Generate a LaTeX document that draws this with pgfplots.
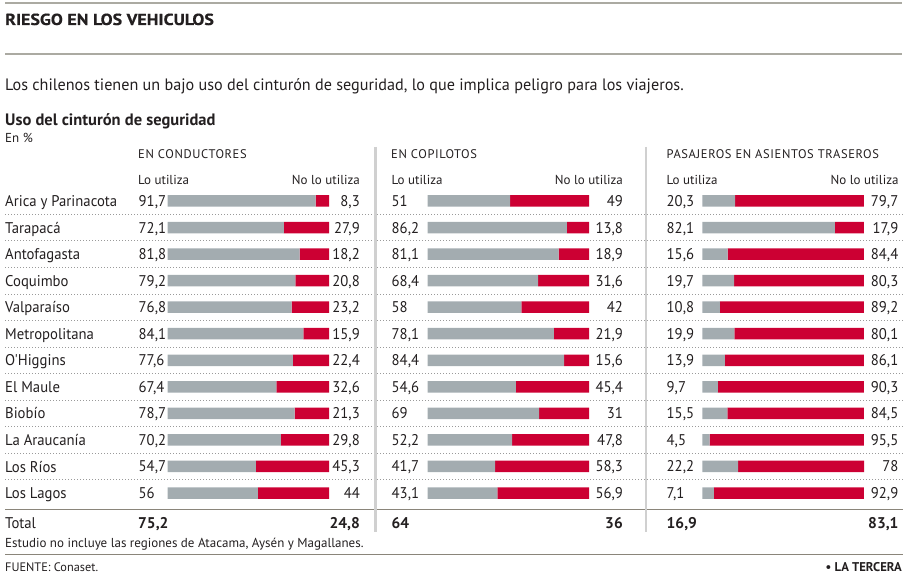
\documentclass[border=0pt]{standalone}
\usepackage{fontspec}
\setmainfont{PT Sans}
\newfontfamily\nar{PT Sans}[FakeStretch=0.95]
\newfontfamily\sub{PT Sans}[FakeStretch=0.98]
\newfontfamily\ttl{PT Sans}[FakeStretch=1.12, FakeBold=0.5]
\newfontfamily\capsf{PT Sans}[LetterSpace=5]
\usepackage{pgfplots}
\pgfplotsset{compat=1.18}
\usepackage{pgfplotstable}
\definecolor{barGray}{HTML}{A3ACB0}
\definecolor{barRed}{HTML}{CC0033}
\definecolor{txt}{HTML}{231F20}
\definecolor{rulec}{HTML}{8A857A}
\definecolor{toprule}{HTML}{ABAAA2}
\definecolor{sepc}{HTML}{D0D0D0}
\definecolor{dotc}{HTML}{9A9A9A}
\newcommand{\fs}[1]{\fontsize{#1}{#1}\selectfont}

\pgfplotstableread{
row use no
0 91.7 8.3
1 72.1 27.9
2 81.8 18.2
3 79.2 20.8
4 76.8 23.2
5 84.1 15.9
6 77.6 22.4
7 67.4 32.6
8 78.7 21.3
9 70.2 29.8
10 54.7 45.3
11 56 44
}\condtab
\pgfplotstableread{
row use no
0 51 49
1 86.2 13.8
2 81.1 18.9
3 68.4 31.6
4 58 42
5 78.1 21.9
6 84.4 15.6
7 54.6 45.4
8 69 31
9 52.2 47.8
10 41.7 58.3
11 43.1 56.9
}\copitab
\pgfplotstableread{
row use no
0 20.3 79.7
1 82.1 17.9
2 15.6 84.4
3 19.7 80.3
4 10.8 89.2
5 19.9 80.1
6 13.9 86.1
7 9.7 90.3
8 15.5 84.5
9 4.5 95.5
10 22.2 78
11 7.1 92.9
}\pasatab

\pgfkeys{/pgf/number format/.cd, use comma, fixed, precision=1, 1000 sep={}, assume math mode=true}
\pgfplotsset{
  panel/.style={scale only axis, width=161.5pt, height=318.6pt,
    xmin=0, xmax=100, ymin=-0.5, ymax=11.5, y dir=reverse,
    hide axis, clip=false, anchor=north west},
  lbl/.style={draw=none, mark=none, nodes near coords, point meta=explicit,
    nodes near coords style={font=\nar\fs{15.5}, text=txt, inner sep=0pt, yshift=-5.5pt}},
}
\newcommand{\panel}[4]{% table, barx, leftshift, rightshift
  \begin{axis}[panel, at={(#2pt,-187.7pt)}, xbar stacked, bar width=11.5pt]
    \addplot[fill=barGray, draw=none] table[x=use, y=row]{#1};
    \addplot[fill=barRed, draw=none] table[x=no, y=row]{#1};
  \end{axis}
  \begin{axis}[panel, at={(#2pt,-187.7pt)}]
    \addplot[lbl, nodes near coords style={anchor=base west, xshift=#3pt}] table[x expr=0, y=row, meta=use]{#1};
    \addplot[lbl, nodes near coords style={anchor=base east, xshift=#4pt}] table[x expr=100, y=row, meta=no]{#1};
  \end{axis}
}

\begin{document}
\begin{tikzpicture}[x=1pt, y=1pt, every node/.style={text=txt, inner sep=0pt}]
\useasboundingbox (0,0) rectangle (920,-577);
% header rules and titles
\draw[toprule, line width=2pt] (5,-3) -- (902,-3);
\draw[toprule, line width=2pt] (5,-54) -- (902,-54);
\node[anchor=base west, font=\ttl\bfseries\fs{16}] at (5,-25) {RIESGO EN LOS VEHICULOS};
\node[anchor=base west, font=\sub\fs{16.5}] at (5,-91) {Los chilenos tienen un bajo uso del cinturón de seguridad, lo que implica peligro para los viajeros.};
\node[anchor=base west, font=\bfseries\fs{16.5}] at (5,-126) {Uso del cinturón de seguridad};
\node[anchor=base west, font=\fs{13}] at (5,-143) {En \%};
% column headings
\node[anchor=base west, font=\capsf\fs{12.5}] at (138,-158.3) {EN CONDUCTORES};
\node[anchor=base west, font=\capsf\fs{12.5}] at (391,-158.3) {EN COPILOTOS};
\node[anchor=base west, font=\capsf\fs{12.5}] at (666.5,-158.3) {PASAJEROS EN ASIENTOS TRASEROS};
\foreach \l/\r in {138/360, 391.5/623, 666.5/898.7}{
  \node[anchor=base west, font=\fs{13}] at (\l,-184.3) {Lo utiliza};
  \node[anchor=base east, font=\fs{13}] at (\r,-184.3) {No lo utiliza};
}
% dotted row separators
\foreach \i in {0,...,10}{
  \draw[dotc, line width=0.8pt, dash pattern=on 1pt off 2pt] (5,{-201-(\i+0.5)*26.55}) -- (903,{-201-(\i+0.5)*26.55});
}
% region names
\foreach \name [count=\i from 0] in {Arica y Parinacota, Tarapacá, Antofagasta, Coquimbo, Valparaíso, Metropolitana, O'Higgins, El Maule, Biobío, La Araucanía, Los Ríos, Los Lagos}{
  \node[anchor=base west, font=\nar\fs{15.5}] at (5,{-201-\i*26.55-5.5}) {\name};
}
% total line
\draw[rulec, line width=1.3pt] (5,-509.5) -- (903,-509.5);
\node[anchor=base west, font=\nar\fs{15.5}] at (5,-528.2) {Total};
\node[anchor=base west, font=\bfseries\fs{15.5}] at (138,-528.2) {75,2};
\node[anchor=base east, font=\bfseries\fs{15.5}] at (360,-528.2) {24,8};
\node[anchor=base west, font=\bfseries\fs{15.5}] at (391.5,-528.2) {64};
\node[anchor=base east, font=\bfseries\fs{15.5}] at (623,-528.2) {36};
\node[anchor=base west, font=\bfseries\fs{15.5}] at (666.5,-528.2) {16,9};
\node[anchor=base east, font=\bfseries\fs{15.5}] at (898.7,-528.2) {83,1};
% panels
\panel{\condtab}{167.5}{-29}{31}
\panel{\copitab}{427.7}{-36.2}{34}
\panel{\pasatab}{702.3}{-35.8}{34.7}
% vertical separators
\draw[sepc, line width=2.5pt] (375.7,-147) -- (375.7,-532);
\draw[sepc, line width=2.5pt] (646,-147) -- (646,-532);
% footer
\node[anchor=base west, font=\fs{13}] at (5,-547.3) {Estudio no incluye las regiones de Atacama, Aysén y Magallanes.};
\draw[rulec, line width=1.3pt] (5,-554.5) -- (903,-554.5);
\node[anchor=base west, font=\fs{12.3}] at (5,-571.7) {FUENTE: Conaset.};
\node[anchor=base east, font=\bfseries\fs{12.7}] at (902,-571.7) {• LA TERCERA};
\end{tikzpicture}
\end{document}
